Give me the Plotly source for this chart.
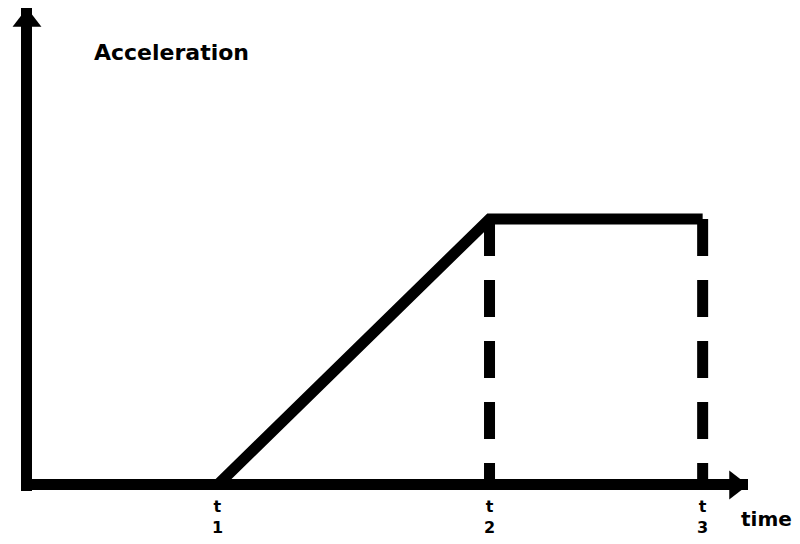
import plotly.graph_objects as go

# time marks (s) and acceleration level
t_marks = [2.1, 5.1, 7.45]
t_labels = ["t<br>1", "t<br>2", "t<br>3"]
accel_max = 1.0

# profile: zero until t1, linear ramp to t2, constant until t3
profile_t = [t_marks[0], t_marks[1], t_marks[2]]
profile_a = [0.0, accel_max, accel_max]

x_range = [-0.055, 7.95]
y_range = [-0.0226, 1.793]

# page body keeps an 8px margin on every side, so size the figure to fit inside
OFF = 8
W, H = 800 - 2 * OFF, 544 - 2 * OFF
m_l, m_r, m_t, m_b = 14, 44, 0, 45
plot_w = W - m_l - m_r
plot_h = H - m_t - m_b
px_x = plot_w / (x_range[1] - x_range[0])
px_y = plot_h / (y_range[1] - y_range[0])

ink = "black"
lw = 11
head = 25  # triangle marker size, tip sits at axis end
bold = dict(family="DejaVu Sans", color=ink, weight="bold")


def paper_x(px):
    return (px - OFF - m_l) / plot_w


def paper_y(py):
    return (H - m_b - (py - OFF)) / plot_h


fig = go.Figure()

# dashed drops at t2 and t3
for t in t_marks[1:]:
    fig.add_trace(go.Scatter(
        x=[t, t], y=[accel_max, 0],
        mode="lines",
        line=dict(color=ink, width=lw, dash="37px,24px"),
        hoverinfo="skip", showlegend=False,
    ))

fig.add_trace(go.Scatter(
    x=profile_t, y=profile_a,
    mode="lines",
    line=dict(color=ink, width=lw),
    hoverinfo="skip", showlegend=False,
))

# arrow heads on both axes
fig.add_trace(go.Scatter(
    x=[0, x_range[1] - head / 2 / px_x],
    y=[y_range[1] - head / 2 / px_y, 0],
    mode="markers",
    marker=dict(symbol=["triangle-up", "triangle-right"], size=head, color=ink),
    cliponaxis=False, hoverinfo="skip", showlegend=False,
))

fig.add_annotation(
    text="Acceleration", xref="paper", yref="paper",
    x=paper_x(92), y=paper_y(52),
    xanchor="left", yanchor="middle", showarrow=False,
    font=dict(size=22, **bold),
)
fig.add_annotation(
    text="time", xref="paper", yref="paper",
    x=paper_x(739), y=paper_y(519),
    xanchor="left", yanchor="middle", showarrow=False,
    font=dict(size=20, **bold),
)

fig.update_xaxes(
    range=x_range, showgrid=False, showline=False,
    zeroline=True, zerolinecolor=ink, zerolinewidth=lw,
    tickvals=t_marks, ticktext=t_labels, ticks="", ticklabelstandoff=4,
    tickfont=dict(size=16, **bold),
)
fig.update_yaxes(
    range=y_range, showgrid=False, showline=False,
    zeroline=True, zerolinecolor=ink, zerolinewidth=lw,
    showticklabels=False, ticks="",
)
fig.update_layout(
    width=W, height=H,
    margin=dict(l=m_l, r=m_r, t=m_t, b=m_b),
    paper_bgcolor="white", plot_bgcolor="white",
    showlegend=False,
)

fig.write_html("out.html")
